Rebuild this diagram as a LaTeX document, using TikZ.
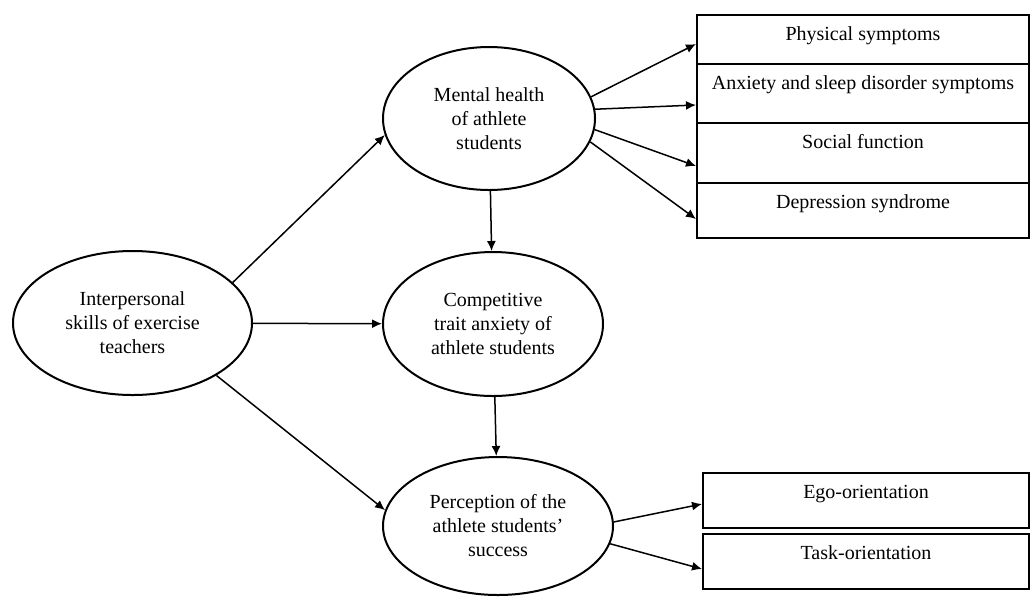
\documentclass[tikz,border=0pt]{standalone}
\usepackage{fontspec}
\setmainfont{Liberation Serif}
\usetikzlibrary{shapes.geometric,arrows.meta}

\begin{document}
\begin{tikzpicture}[x=0.5pt, y=-0.5pt, >={Latex[length=5pt,width=4.5pt]},
    oval/.style={ellipse, draw, line width=1pt, inner sep=0pt, align=center},
    box/.style={rectangle, draw, line width=1pt, anchor=north, inner sep=0pt, text height=12.5pt},
    link/.style={->, line width=0.75pt}]
            \useasboundingbox (0,0) rectangle (1032,596);
            \node[oval, minimum width=119.5pt, minimum height=72pt] (I) at (132.5,323) {Interpersonal\\skills of exercise\\teachers};
            \node[oval, minimum width=106pt, minimum height=71.5pt] (M) at (489,118.5) {Mental health\\of athlete\\students};
            \node[oval, minimum width=110pt, minimum height=72pt] (C) at (493,324) {Competitive\\trait anxiety of\\athlete students};
            \node[oval, minimum width=115pt, minimum height=69pt] (P) at (498,526) {Perception of the\\athlete students'\\success};
            \node[box, minimum width=166pt, text depth=12pt] (PS) at (863,14) {Physical symptoms};
            \node[box, minimum width=166pt, text depth=17pt] (AS) at (863,63) {Anxiety and sleep disorder symptoms};
            \node[box, minimum width=166pt, text depth=17.5pt] (SF) at (863,122) {Social function};
            \node[box, minimum width=166pt, text depth=15pt] (DS) at (863,182) {Depression syndrome};
            \node[box, minimum width=163pt, text depth=15pt] (EO) at (866,472) {Ego-orientation};
            \node[box, minimum width=163pt, text depth=15pt] (TO) at (866,533) {Task-orientation};
            \path[link] (I.22) edge (M.189);
            \path[link] (I) edge (C);
            \path[link] (I.-32) edge (P.172);
            \path[link] (M) edge (C);
            \path[link] (C) edge (P);
            \path[link] (M.12) edge ([yshift=-2.25pt]PS.west);
            \path[link] (M.5) edge ([yshift=-5.75pt]AS.west);
            \path[link] (M.-6) edge ([yshift=-6.5pt]SF.west);
            \path[link] (M.-13) edge ([yshift=-4.25pt]DS.west);
            \path[link] (P.2) edge ([yshift=-1.75pt]EO.west);
            \path[link] (P.-9) edge ([yshift=-3.75pt]TO.west);
        \end{tikzpicture}
\end{document}
